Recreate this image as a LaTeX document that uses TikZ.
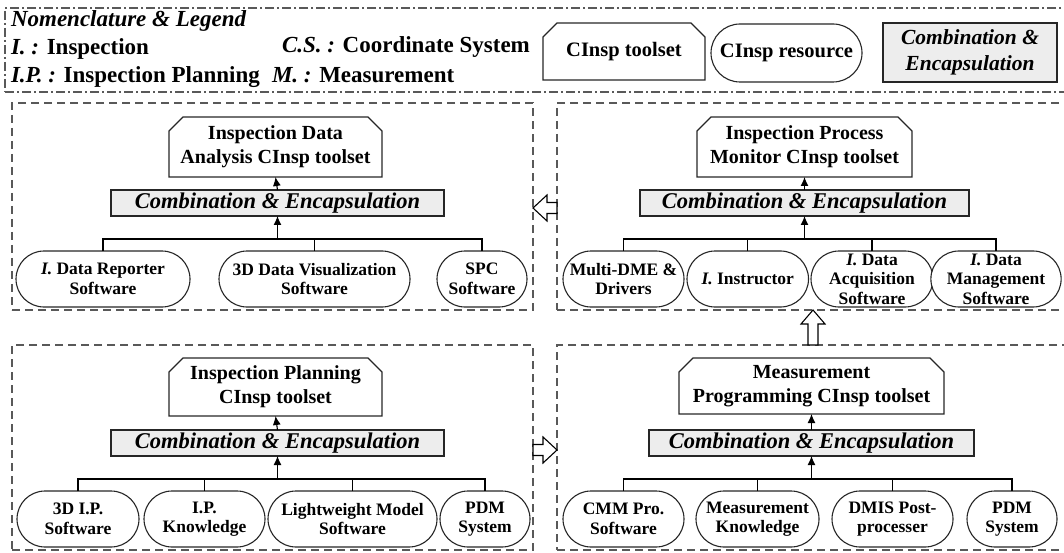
\documentclass[tikz,border=0pt]{standalone}
\usepackage{fontspec}
\setmainfont{Liberation Serif}
\usetikzlibrary{shapes.misc,arrows.meta,calc}

% toolset box: rectangle with its two upper corners cut off
\newcommand\toolset[6]{%
  \node[tool, minimum width=#4, minimum height=#5] (#1) at (#2,#3) {#6};
  \draw[shapeline] (#1.south west) -- ($(#1.north west)+(0,14)$)
    -- ($(#1.north west)+(14,0)$) -- ($(#1.north east)+(-14,0)$)
    -- ($(#1.north east)+(0,14)$) -- (#1.south east) -- cycle;
}

\begin{document}
\begin{tikzpicture}[x=1pt,y=-1pt,
  every node/.style={inner sep=0pt, outer sep=0pt},
  shapeline/.style={draw=black!85, line width=1.1pt},
  panel/.style={rectangle, draw=black!65, line width=1.5pt, dash pattern=on 8pt off 5pt},
  legendframe/.style={rectangle, draw=black!65, line width=1.5pt,
    dash pattern=on 9pt off 3pt on 2pt off 3pt},
  lgtext/.style={font=\bfseries\fontsize{23}{27}\selectfont, anchor=base west},
  tool/.style={rectangle, align=center, font=\bfseries\fontsize{20}{24}\selectfont},
  resource/.style={rounded rectangle, shapeline, fill=white, align=center,
    minimum height=56, font=\bfseries\fontsize{17.5}{19.5}\selectfont},
  cebox/.style={rectangle, shapeline, fill=black!7, minimum height=26,
    font=\bfseries\itshape\fontsize{22.5}{26}\selectfont},
  link/.style={draw=black, line width=1.1pt},
  up/.style={link, -{Latex[length=9pt,width=8pt]}},
  hollow/.style={draw=black, line width=1.1pt, fill=white, line join=miter}
]
\useasboundingbox (0,0) rectangle (1064,553);
\clip (0,0) rectangle (1064,553);

% ---------------- nomenclature and legend ----------------
\node[legendframe, minimum width=1070, minimum height=84] (legend) at (540,50) {};
\node[lgtext] (nom)  at (11,27) {\itshape Nomenclature \& Legend};
\node[lgtext] (abI)  at (11,55) {\textit{I. :} Inspection};
\node[lgtext] (abCS) at (282,53) {\textit{C.S. :} Coordinate System};
\node[lgtext] (abIP) at (11,83) {\textit{I.P. :} Inspection Planning};
\node[lgtext] (abM)  at (272,83) {\textit{M. :} Measurement};

\toolset{lgtool}{624}{51.5}{162}{57}{\fontsize{20.5}{24}\selectfont CInsp toolset}
\node[resource, minimum width=151, minimum height=58,
  font=\bfseries\fontsize{20.5}{24}\selectfont] (lgres) at (786.5,53) {CInsp resource};
\node[cebox, minimum width=174, minimum height=59, align=center,
  font=\bfseries\itshape\fontsize{21.5}{26}\selectfont] (lgce) at (970,52.5)
  {Combination \&\\Encapsulation};

% ---------------- panels ----------------
\node[panel, minimum width=521, minimum height=207] (P1) at (272.5,206.5) {};
\node[panel, minimum width=518, minimum height=207] (P2) at (816,206.5) {};
\node[panel, minimum width=521, minimum height=205] (P3) at (272.5,447.5) {};
\node[panel, minimum width=518, minimum height=205] (P4) at (816,447.5) {};

% ---------------- inspection data analysis ----------------
\toolset{T1}{275.5}{147}{213}{60}{Inspection Data\\Analysis CInsp toolset}
\node[cebox, minimum width=333] (C1) at (277.5,203) {Combination \& Encapsulation};
\node[resource, minimum width=174] (R11) at (103,279) {\textit{I.} Data Reporter\\Software};
\node[resource, minimum width=191] (R12) at (314.5,279) {3D Data Visualization\\Software};
\node[resource, minimum width=90]  (R13) at (482,279) {SPC\\Software};
\coordinate (J1) at (C1.south |- 0,239);
\draw[link] (R11.north) |- (J1) -| (R13.north);
\draw[link] (R12.north) -- (R12.north |- J1);
\draw[up] (J1) -- (C1.south);
\draw[up] (C1.north) -- (T1.south);

% ---------------- inspection process monitor ----------------
\toolset{T2}{804.5}{147}{215}{60}{Inspection Process\\Monitor CInsp toolset}
\node[cebox, minimum width=329] (C2) at (804.5,203) {Combination \& Encapsulation};
\node[resource, minimum width=121]   (R21) at (623.5,279) {Multi-DME \&\\Drivers};
\node[resource, minimum width=121.5] (R22) at (747.75,279) {\textit{I.} Instructor};
\node[resource, minimum width=122]   (R23) at (872,279) {\textit{I.} Data\\Acquisition\\Software};
\node[resource, minimum width=122]   (R24) at (996,279) {\textit{I.} Data\\Management\\Software};
\coordinate (J2) at (C2.south |- 0,239);
\draw[link] (R21.north) |- (J2) -| (R24.north);
\draw[link] (R22.north) -- (R22.north |- J2);
\draw[link] (R23.north) -- (R23.north |- J2);
\draw[up] (J2) -- (C2.south);
\draw[up] (C2.north) -- (T2.south);

% ---------------- inspection planning ----------------
\toolset{T3}{275.5}{387}{213}{58}{Inspection Planning\\CInsp toolset}
\node[cebox, minimum width=333] (C3) at (277.5,443) {Combination \& Encapsulation};
\node[resource, minimum width=122] (R31) at (78,519) {3D I.P.\\Software};
\node[resource, minimum width=121] (R32) at (204.5,519) {I.P.\\Knowledge};
\node[resource, minimum width=169] (R33) at (352.5,519) {Lightweight Model\\Software};
\node[resource, minimum width=90]  (R34) at (485,519) {PDM\\System};
\coordinate (J3) at (C3.south |- 0,479);
\draw[link] (R31.north) |- (J3) -| (R34.north);
\draw[link] (R32.north) -- (R32.north |- J3);
\draw[link] (R33.north) -- (R33.north |- J3);
\draw[up] (J3) -- (C3.south);
\draw[up] (C3.north) -- (T3.south);

% ---------------- measurement programming ----------------
\toolset{T4}{811.5}{386}{265}{56}{Measurement\\Programming CInsp toolset}
\node[cebox, minimum width=325] (C4) at (811.5,443) {Combination \& Encapsulation};
\node[resource, minimum width=121] (R41) at (623.5,519) {CMM Pro.\\Software};
\node[resource, minimum width=123] (R42) at (757.5,519) {Measurement\\Knowledge};
\node[resource, minimum width=121] (R43) at (892.5,519) {DMIS Post-\\processer};
\node[resource, minimum width=90]  (R44) at (1012,519) {PDM\\System};
\coordinate (J4) at (C4.south |- 0,479);
\draw[link] (R41.north) |- (J4) -| (R44.north);
\draw[link] (R42.north) -- (R42.north |- J4);
\draw[link] (R43.north) -- (R43.north |- J4);
\draw[up] (J4) -- (C4.south);
\draw[up] (C4.north) -- (T4.south);

% ---------------- hollow arrows between the panels ----------------
\coordinate (aL) at (P1.east |- 0,208);
\draw[hollow] (aL) -- ++(14,-13) -- ++(0,7.5) -- ++(10,0) -- ++(0,11)
  -- ++(-10,0) -- ++(0,7.5) -- cycle;
\coordinate (aR) at (P4.west |- 0,450);
\draw[hollow] (aR) -- ++(-14,-13) -- ++(0,7.5) -- ++(-10,0) -- ++(0,11)
  -- ++(10,0) -- ++(0,7.5) -- cycle;
\coordinate (aU) at (813,0 |- P2.south);
\draw[hollow] (aU) -- ++(12,14) -- ++(-7,0) -- ++(0,21) -- ++(-10,0)
  -- ++(0,-21) -- ++(-7,0) -- cycle;
\end{tikzpicture}
\end{document}
